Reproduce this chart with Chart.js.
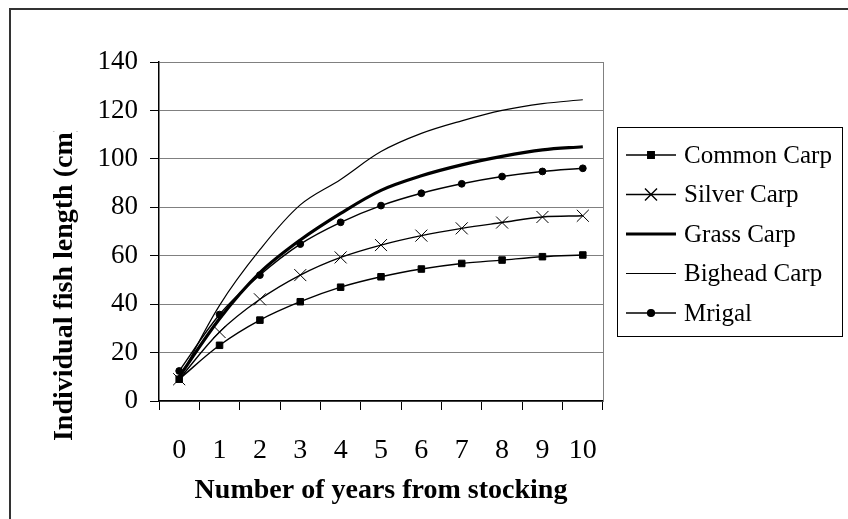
<!DOCTYPE html>
<html>
<head>
<meta charset="utf-8">
<script src="https://cdn.jsdelivr.net/npm/chart.js@4"></script>
<style>
  html, body { margin: 0; padding: 0; background: #fff; overflow: hidden; }
  #wrap { width: 848px; height: 519px; }
</style>
</head>
<body>
<div id="wrap"><canvas id="myChart" width="848" height="519"></canvas></div>
<script>
// Data
// --------------------------------------------
const years = ['0', '1', '2', '3', '4', '5', '6', '7', '8', '9', '10']
const commonCarp = [9, 23, 33.4, 41, 47, 51.3, 54.5, 56.8, 58.2, 59.6, 60.3]
const silverCarp = [9, 28.5, 42, 52, 59.3, 64.4, 68.3, 71.3, 73.7, 76, 76.5]
const grassCarp = [10, 34, 53, 66.5, 77.5, 87, 93, 97.5, 101, 103.7, 105]
const bigheadCarp = [9, 39.5, 62.5, 81, 91.5, 103, 110.5, 115.7, 120, 122.8, 124.4]
const mrigal = [12.4, 35.7, 52, 64.8, 73.8, 80.7, 85.8, 89.7, 92.7, 94.8, 96.1]
const yTicks = [0, 20, 40, 60, 80, 100, 120, 140]

const serif = '"Liberation Serif", "Times New Roman", serif'

// Frame, titles and legend box
// --------------------------------------------
const extras = {
    id: 'extras',
    beforeDraw(chart) {
        const ctx = chart.ctx
        ctx.save()
        ctx.fillStyle = '#fff'
        ctx.fillRect(0, 0, chart.width, chart.height)
        ctx.strokeStyle = '#333'
        ctx.lineWidth = 2
        ctx.strokeRect(10, 9, 860, 540)
        ctx.restore()
    },
    afterDraw(chart) {
        const ctx = chart.ctx
        const a = chart.chartArea
        ctx.save()

        // right edge of the plot
        ctx.strokeStyle = '#808080'
        ctx.lineWidth = 1
        ctx.beginPath()
        ctx.moveTo(a.right + 0.5, a.top)
        ctx.lineTo(a.right + 0.5, a.bottom)
        ctx.stroke()

        // axis titles
        ctx.fillStyle = '#000'
        ctx.font = 'bold 28px ' + serif
        ctx.textAlign = 'center'
        ctx.textBaseline = 'middle'
        ctx.fillText('Number of years from stocking', (a.left + a.right) / 2, 491)

        ctx.save()
        ctx.beginPath()
        ctx.rect(0, 131, 150, 400)
        ctx.clip()
        ctx.translate(65, 282)
        ctx.rotate(-Math.PI / 2)
        ctx.fillText('Individual fish length (cm)', 0, 0)
        ctx.restore()

        // legend
        const lx = 617, ly = 127, lw = 225, lh = 209
        ctx.strokeStyle = '#000'
        ctx.lineWidth = 1
        ctx.strokeRect(lx + 0.5, ly + 0.5, lw, lh)
        ctx.font = '25px ' + serif
        ctx.textAlign = 'left'
        chart.data.datasets.forEach((ds, i) => {
            const y = 155 + i * 39.5
            ctx.strokeStyle = '#000'
            ctx.lineWidth = ds.borderWidth
            ctx.beginPath()
            ctx.moveTo(626, y)
            ctx.lineTo(676, y)
            ctx.stroke()
            if (ds.pointRadius > 0) {
                Chart.helpers.drawPoint(ctx, {
                    pointStyle: ds.pointStyle,
                    radius: ds.pointRadius,
                    borderWidth: 1
                }, 651, y)
            }
            ctx.fillStyle = '#000'
            ctx.fillText(ds.label, 684, y + 1)
        })
        ctx.restore()
    }
}

// Plot
// --------------------------------------------
function series(label, data, width, style, radius) {
    return {
        label: label,
        data: data,
        borderColor: '#000',
        backgroundColor: '#000',
        borderWidth: width,
        pointStyle: style,
        pointRadius: radius,
        pointBorderWidth: 1,
        pointBorderColor: '#000',
        pointBackgroundColor: '#000',
        tension: 0.35,
        fill: false
    }
}

const ctx = document.getElementById('myChart').getContext('2d')
const myChart = new Chart(ctx, {
    type: 'line',
    data: {
        labels: years,
        datasets: [
            series('Common Carp', commonCarp, 1.4, 'rect', 4.6),
            series('Silver Carp', silverCarp, 1.4, 'crossRot', 8.5),
            series('Grass Carp', grassCarp, 3.2, false, 0),
            series('Bighead Carp', bigheadCarp, 1.2, false, 0),
            series('Mrigal', mrigal, 1.4, 'circle', 3.4)
        ]
    },
    options: {
        responsive: false,
        animation: false,
        layout: { padding: { left: 0, top: 62, right: 245, bottom: 0 } },
        plugins: {
            legend: { display: false },
            tooltip: { enabled: false }
        },
        scales: {
            x: {
                type: 'category',
                offset: true,
                grid: {
                    offset: true,
                    drawOnChartArea: false,
                    tickLength: 9,
                    tickColor: '#000',
                    tickWidth: 1
                },
                border: { color: '#000', width: 1.5 },
                ticks: {
                    color: '#000',
                    padding: 24,
                    maxRotation: 0,
                    autoSkip: false,
                    font: { family: serif, size: 28 }
                },
                afterFit: s => { s.height = 118 }
            },
            y: {
                min: 0,
                max: 140,
                afterBuildTicks: s => { s.ticks = yTicks.map(v => ({ value: v })) },
                grid: {
                    color: '#808080',
                    lineWidth: 1,
                    tickLength: 9,
                    tickColor: '#000'
                },
                border: { color: '#000', width: 1.5 },
                ticks: {
                    color: '#000',
                    padding: 12,
                    font: { family: serif, size: 27 }
                },
                afterFit: s => { s.width = 159 }
            }
        }
    },
    plugins: [extras]
})
</script>
</body>
</html>
